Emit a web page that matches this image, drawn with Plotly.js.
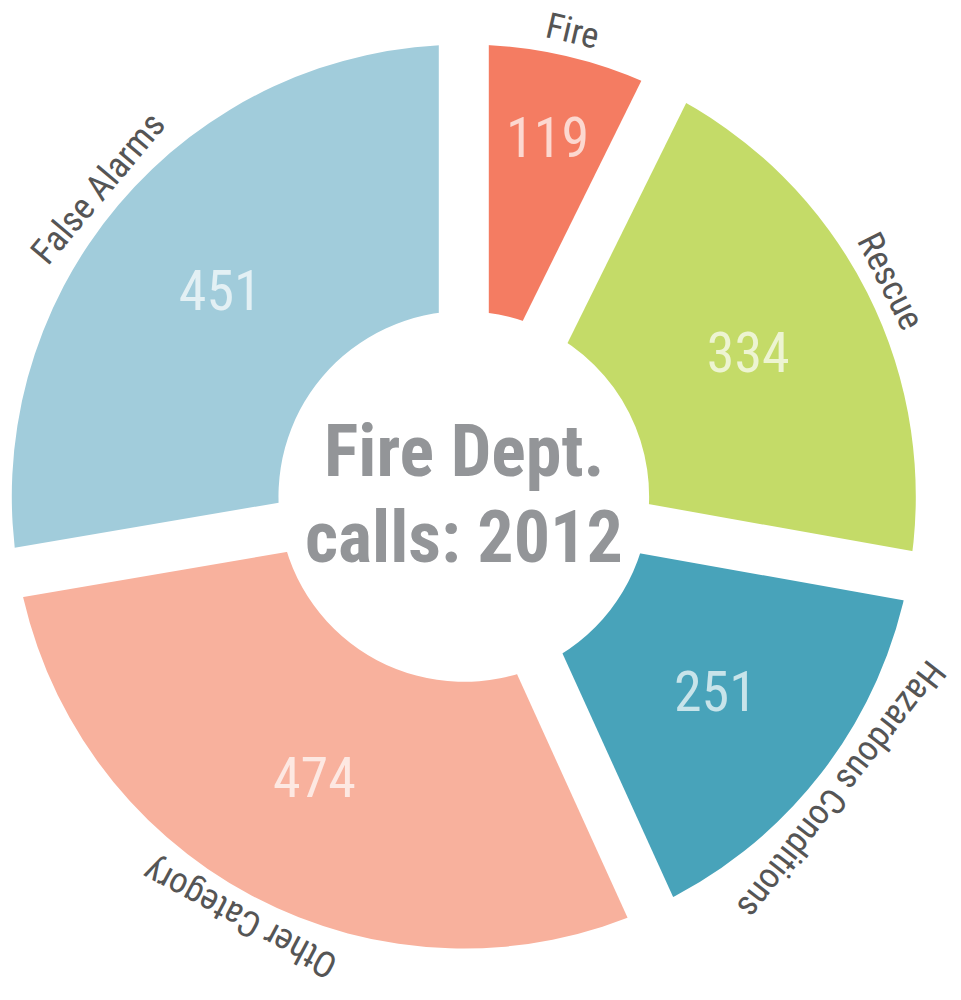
<!DOCTYPE html>
<html>
<head>
<meta charset="utf-8">
<script src="https://cdn.plot.ly/plotly-3.0.1.min.js"></script>
<style>html,body{margin:0;padding:0;background:#fff;}#chart{width:961px;height:1000px;}</style>
</head>
<body>
<div id="chart"></div>
<script>
const categories = ["Fire", "Rescue", "Hazardous Conditions", "Other Category", "False Alarms"];
const calls = [119, 334, 251, 474, 451];
const sliceColors = ["#F47C62", "#C4DB68", "#48A3BA", "#F8B19D", "#A1CCDB"];
const centerTitle = ["Fire Dept.", "calls: 2012"];

const W = 961, H = 1000;
const CX = 463.8, CY = 496.5, R = 452, GAP = 50, LABEL_R = 478;
const FONT = "'Liberation Sans Narrow', 'Arial Narrow', 'Roboto Condensed', 'Liberation Sans', sans-serif";

const px2x = p => p / W;
const py2y = p => 1 - p / H;

const total = calls.reduce((a, b) => a + b, 0);
let cum = 0;
const bounds = [0];
const mids = [];
calls.forEach(v => {
  mids.push((cum + v / 2) / total * 360);
  cum += v;
  bounds.push(cum / total * 360);
});
const rad = d => d * Math.PI / 180;

const shapes = bounds.slice(0, -1).map(a => ({
  type: "line", xref: "paper", yref: "paper",
  x0: px2x(CX), y0: py2y(CY),
  x1: px2x(CX + (R + 30) * Math.sin(rad(a))),
  y1: py2y(CY - (R + 30) * Math.cos(rad(a))),
  line: {color: "#ffffff", width: GAP}
}));

const annotations = categories.map((c, i) => {
  let ang = mids[i];
  let ta = ang > 180 ? ang - 360 : ang;
  return {
    xref: "paper", yref: "paper",
    x: px2x(CX + LABEL_R * Math.sin(rad(ang))),
    y: py2y(CY - LABEL_R * Math.cos(rad(ang))),
    text: c, showarrow: false, textangle: ta,
    xanchor: "center", yanchor: "middle",
    font: {family: FONT, size: 36, color: "#555555"}
  };
});
annotations.push({
  xref: "paper", yref: "paper", x: px2x(CX), y: py2y(452),
  text: "<b>" + centerTitle[0] + "</b>", showarrow: false,
  xanchor: "center", yanchor: "middle",
  font: {family: FONT, size: 72, color: "#939598"}
});
annotations.push({
  xref: "paper", yref: "paper", x: px2x(CX), y: py2y(537),
  text: "<b>" + centerTitle[1] + "</b>", showarrow: false,
  xanchor: "center", yanchor: "middle",
  font: {family: FONT, size: 72, color: "#939598"}
});

const trace = {
  type: "pie",
  labels: categories,
  values: calls,
  sort: false,
  direction: "clockwise",
  rotation: 0,
  hole: 0.41,
  marker: {colors: sliceColors, line: {width: 0}},
  textinfo: "value",
  textposition: "inside",
  insidetextorientation: "horizontal",
  insidetextfont: {family: FONT, size: 56, color: "rgba(255,255,255,0.7)"},
  domain: {
    x: [px2x(CX - R), px2x(CX + R)],
    y: [py2y(CY + R), py2y(CY - R)]
  },
  hoverinfo: "label+value"
};

Plotly.newPlot("chart", [trace], {
  width: W, height: H,
  margin: {l: 0, r: 0, t: 0, b: 0},
  paper_bgcolor: "#ffffff",
  showlegend: false,
  shapes: shapes,
  annotations: annotations
}, {displayModeBar: false});
</script>
</body>
</html>
